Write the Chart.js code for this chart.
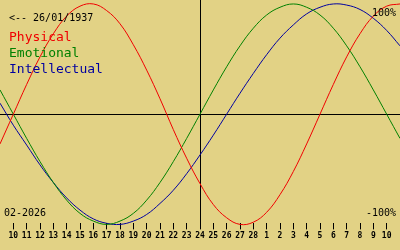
<!DOCTYPE html>
<html>
<head>
<meta charset="utf-8">
<script src="https://cdn.jsdelivr.net/npm/chart.js@4/dist/chart.umd.min.js"></script>
<style>
  html, body { margin: 0; padding: 0; background: #e2d285; }
  #wrap { width: 400px; height: 250px; }
</style>
</head>
<body>
<div id="wrap"><canvas id="bio"></canvas></div>
<script>
// days shown: 9 feb .. 11 mar 2026 (first and last are only the edges)
const dayLabels = [
    "9", "10", "11", "12", "13", "14", "15", "16", "17", "18", "19", "20",
    "21", "22", "23", "24", "25", "26", "27", "28",
    "1", "2", "3", "4", "5", "6", "7", "8", "9", "10", "11",
];
const todayIndex = 15;

// values in %
const physical = [
    -27, 0, 27, 52, 73, 89, 98, 100, 94, 82, 63, 40, 14, -14, -40, -63,
    -82, -94, -100, -98, -89, -73, -52, -27, 0, 27, 52, 73, 89, 98, 100,
];
const emotional = [
    22, 0, -22, -43, -62, -78, -90, -97, -100, -97, -90, -78, -62, -43, -22, 0,
    22, 43, 62, 78, 90, 97, 100, 97, 90, 78, 62, 43, 22, 0, -22,
];
const intellectual = [
    10, -10, -28, -46, -62, -76, -87, -95, -99, -100, -97, -91, -81, -69, -54, -37,
    -19, 0, 19, 37, 54, 69, 81, 91, 97, 100, 99, 95, 87, 76, 62,
];

const birthText = "<-- 26/01/1937";
const monthText = "02-2026";
const topText = "100%";
const bottomText = "-100%";

const RED = "#f00000";
const GREEN = "#008000";
const BLUE = "#0000a0";
const MONO = "'DejaVu Sans Mono', 'Liberation Mono', monospace";

const overlay = {
    id: "overlay",
    beforeDatasetsDraw(chart) {
        const { ctx, chartArea, scales } = chart;
        const y0 = Math.round(scales.y.getPixelForValue(0)) + 0.5;
        const xt = Math.round(scales.x.getPixelForValue(todayIndex)) + 0.5;
        ctx.save();
        ctx.strokeStyle = "#000";
        ctx.lineWidth = 1;
        ctx.beginPath();
        ctx.moveTo(0, y0);
        ctx.lineTo(chart.width, y0);
        ctx.moveTo(xt, chartArea.top);
        ctx.lineTo(xt, chartArea.bottom + 5);
        ctx.stroke();
        ctx.restore();
    },
    afterDraw(chart) {
        const { ctx } = chart;
        ctx.save();
        ctx.textBaseline = "alphabetic";
        ctx.textAlign = "left";
        ctx.fillStyle = "#000";
        ctx.font = "10px " + MONO;
        ctx.fillText(birthText, 9, 21);
        ctx.fillText(monthText, 4, 216);
        ctx.textAlign = "right";
        ctx.fillText(topText, 396, 16);
        ctx.fillText(bottomText, 396, 216);

        ctx.textAlign = "left";
        ctx.font = "13px " + MONO;
        chart.data.datasets.forEach((ds, i) => {
            ctx.fillStyle = ds.borderColor;
            ctx.fillText(ds.label, 9, 41 + i * 16);
        });
        ctx.restore();
    },
};

function createBioChart() {
    const ctx = document.getElementById("bio").getContext("2d");
    const lastIndex = dayLabels.length - 1;
    const hideEdge = (i) => i === 0 || i === lastIndex;

    new Chart(ctx, {
        type: "line",
        data: {
            labels: dayLabels,
            datasets: [
                { label: "Physical", data: physical, borderColor: RED },
                { label: "Emotional", data: emotional, borderColor: GREEN },
                { label: "Intellectual", data: intellectual, borderColor: BLUE },
            ].map((d) => ({
                ...d,
                borderWidth: 1,
                pointRadius: 0,
                tension: 0.4,
                fill: false,
                clip: false,
            })),
        },
        options: {
            responsive: true,
            maintainAspectRatio: false,
            animation: false,
            layout: {
                autoPadding: false,
                padding: { left: 0, right: 0, top: 0, bottom: 7 },
            },
            plugins: {
                legend: { display: false },
                tooltip: { enabled: false },
            },
            scales: {
                x: {
                    type: "category",
                    offset: false,
                    border: { display: false },
                    grid: {
                        drawOnChartArea: false,
                        drawTicks: true,
                        tickLength: 6,
                        tickWidth: 1,
                        tickColor: (c) => (hideEdge(c.index) ? "rgba(0,0,0,0)" : "#000"),
                    },
                    ticks: {
                        autoSkip: false,
                        maxRotation: 0,
                        padding: 2,
                        color: "#000",
                        font: { family: MONO, size: 8, weight: "bold" },
                        callback: (v, i) => (hideEdge(i) ? "" : dayLabels[i]),
                    },
                    afterFit(scale) {
                        // no side padding: the days run edge to edge
                        scale.paddingLeft = 0;
                        scale.paddingRight = 0;
                    },
                },
                y: {
                    display: false,
                    min: -99.1,
                    max: 103.6,
                },
            },
        },
        plugins: [overlay],
    });
}

createBioChart();
</script>
</body>
</html>
